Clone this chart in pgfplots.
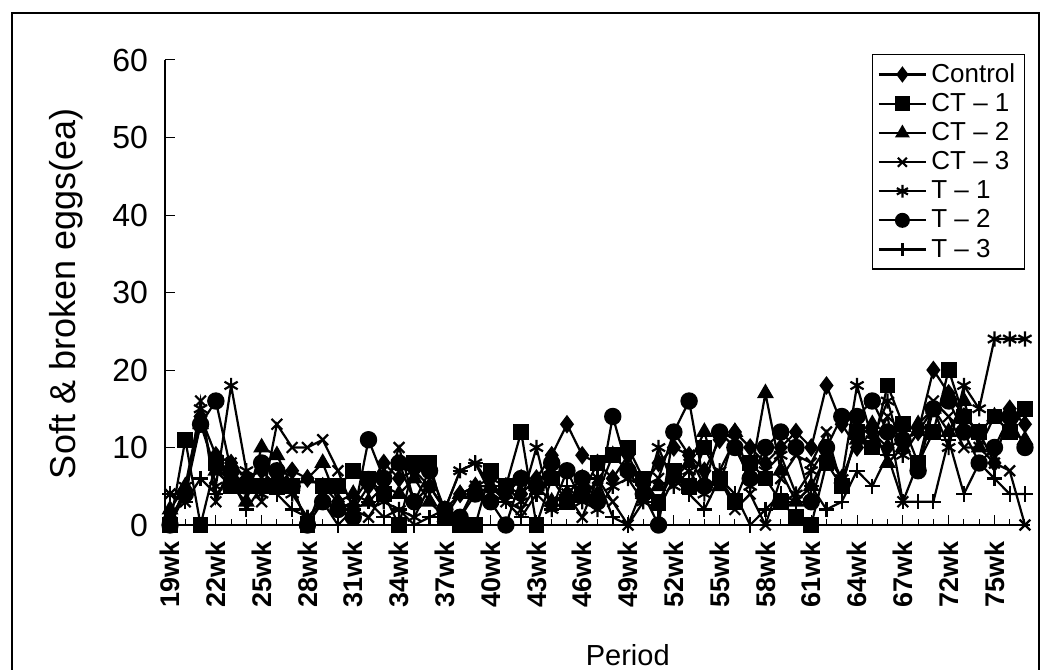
\documentclass[border=0pt]{standalone}
\usepackage{pgfplots}
\pgfplotsset{compat=1.18}
\usepackage{pgfplotstable}
\usepackage{fontspec}
\setmainfont{Liberation Sans}

\pgfplotstableread{
i ctrl ct1 ct2 ct3 t1 t2 t3
0 1 0 2 4 0 0 4
1 4 11 5 3 5 4 3
2 14 0 13 16 15 13 6
3 9 8 7 3 5 16 4
4 8 5 5 8 18 7 6
5 6 5 3 6 7 5 2
6 7 5 10 3 4 8 5
7 5 5 9 13 7 7 4
8 7 5 5 10 4 5 2
9 6 0 6 10 1 0 1
10 5 5 8 11 3 3 3
11 3 5 3 7 2 2 0
12 2 7 4 2 3 1 2
13 5 6 3 1 6 11 3
14 8 4 5 4 3 6 1
15 6 0 4 10 2 8 2
16 7 8 6 3 1 3 0
17 5 8 3 5 5 7 1
18 2 1 1 2 2 2 2
19 4 0 4 1 7 1 7
20 5 0 5 5 8 4 8
21 6 7 5 4 4 3 5
22 5 5 4 3 5 0 3
23 4 12 6 2 3 6 1
24 6 0 5 5 10 5 4
25 9 6 3 3 2 8 2
26 13 3 4 4 7 7 5
27 9 4 6 1 3 6 3
28 8 8 4 6 2 3 6
29 6 9 9 3 5 14 1
30 9 10 7 0 6 7 0
31 5 6 4 5 3 4 3
32 8 3 5 6 10 0 2
33 10 7 6 12 5 12 6
34 9 5 8 9 7 16 4
35 7 10 12 5 4 5 2
36 11 6 5 6 7 12 6
37 12 3 12 2 11 10 4
38 10 8 6 4 5 6 0
39 8 6 17 0 7 10 2
40 10 3 7 6 9 12 4
41 12 1 3 9 4 10 3
42 10 0 5 8 7 3 5
43 18 8 9 12 10 10 2
44 13 5 6 5 6 14 3
45 10 12 11 12 18 14 7
46 12 10 13 10 11 16 5
47 10 18 8 14 16 12 9
48 11 13 10 3 9 11 3
49 12 8 13 8 12 7 3
50 20 12 15 16 15 15 3
51 17 20 12 14 10 16 11
52 14 14 16 10 18 12 4
53 12 12 10 10 15 8 8
54 8 14 14 8 24 10 6
55 15 12 12 7 24 14 4
56 13 15 11 0 24 10 4
}\eggdata

\begin{document}
\begin{tikzpicture}
\begin{axis}[
  at={(0pt,0pt)}, anchor=south west,
  scale only axis, width=432.5pt, height=232.5pt,
  xmin=-0.33, xmax=56.33, ymin=0, ymax=60,
  axis lines=left,
  axis line style={-, line width=0.6pt},
  xtick={0,3,...,54},
  xticklabels={19wk,22wk,25wk,28wk,31wk,34wk,37wk,40wk,43wk,46wk,49wk,52wk,55wk,58wk,61wk,64wk,67wk,72wk,75wk},
  minor xtick={0,...,56},
  ytick={0,10,...,60},
  tick align=inside,
  major tick length=5pt, minor tick length=3pt,
  tick style={black, line width=0.5pt},
  /pgf/number format/assume math mode=true,
  x tick label style={rotate=90, anchor=east, font=\fontsize{13.5}{14}\selectfont\bfseries, xshift=-4.5pt},
  y tick label style={font=\fontsize{16}{18}\selectfont, xshift=-5pt},
  xlabel={Period},
  ylabel={Soft \& broken eggs(ea)},
  xlabel style={font=\fontsize{14.5}{16}\selectfont, at={(axis description cs:0.535,-0.2796)}, anchor=center},
  ylabel style={font=\fontsize{18}{20}\selectfont, at={(axis description cs:-0.1145,0.497)}, anchor=center},
  every axis plot/.append style={black, line width=1.1pt, mark size=3.8pt, mark options={solid, fill=black}},
  legend style={at={(axis description cs:0.994,1.013)}, anchor=north east, draw=black, line width=0.6pt,
     font=\fontsize{13}{15}\selectfont, row sep=0pt, inner sep=2.5pt},
  legend cell align=left,
  legend image code/.code={\draw[mark repeat=2,mark phase=2, mark size=3.2pt] plot coordinates {(0cm,0cm)(0.42cm,0cm)(0.84cm,0cm)};},
]
\addplot[mark=diamond*] table[x=i,y=ctrl]{\eggdata};
\addlegendentry{Control}
\addplot[mark=square*, mark size=3.4pt] table[x=i,y=ct1]{\eggdata};
\addlegendentry{CT -- 1}
\addplot[mark=triangle*] table[x=i,y=ct2]{\eggdata};
\addlegendentry{CT -- 2}
\addplot[mark=x] table[x=i,y=ct3]{\eggdata};
\addlegendentry{CT -- 3}
\addplot[mark=asterisk] table[x=i,y=t1]{\eggdata};
\addlegendentry{T -- 1}
\addplot[mark=*] table[x=i,y=t2]{\eggdata};
\addlegendentry{T -- 2}
\addplot[mark=+] table[x=i,y=t3]{\eggdata};
\addlegendentry{T -- 3}
\end{axis}
\pgfresetboundingbox
\useasboundingbox (-82.5pt,-72pt) rectangle (438.5pt,262.5pt);
\draw[line width=0.8pt] (-76.5pt,-77pt) rectangle (437pt,256pt);
\end{tikzpicture}
\end{document}
